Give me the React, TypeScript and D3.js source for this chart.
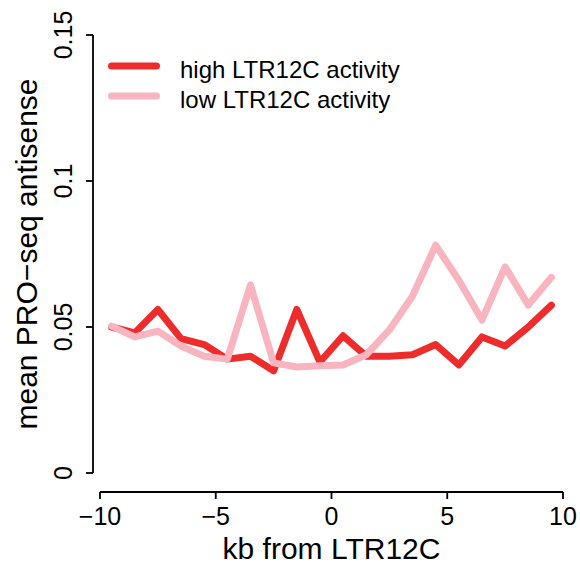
import React from "react";
import * as d3 from "d3";

// Bin centres (kb from LTR12C)
const positions = [-9.5, -8.5, -7.5, -6.5, -5.5, -4.5, -3.5, -2.5, -1.5, -0.5, 0.5, 1.5, 2.5, 3.5, 4.5, 5.5, 6.5, 7.5, 8.5, 9.5];

// Mean antisense PRO-seq signal per bin
const highActivity = [0.050, 0.048, 0.056, 0.046, 0.044, 0.039, 0.040, 0.035, 0.056, 0.038, 0.047, 0.040, 0.040, 0.0405, 0.044, 0.037, 0.0466, 0.0435, 0.050, 0.0575];
const lowActivity = [0.0503, 0.0466, 0.0486, 0.0435, 0.040, 0.039, 0.0644, 0.0377, 0.0363, 0.0367, 0.037, 0.0405, 0.049, 0.0606, 0.078, 0.066, 0.0524, 0.0706, 0.0575, 0.067];

const xTicks = [-10, -5, 0, 5, 10];
const xTickLabels = ["\u221210", "\u22125", "0", "5", "10"];
const yTicks = [0, 0.05, 0.1, 0.15];
const yTickLabels = ["0", "0.05", "0.1", "0.15"];

const seriesNames = ["high LTR12C activity", "low LTR12C activity"];
const seriesColors = ["#EE2C2C", "#F8B4BF"];

export default function App() {
  const width = 580;
  const height = 571;
  const font = "Liberation Sans, Arial, sans-serif";

  const x = d3.scaleLinear().domain([-10, 10]).range([100, 563]);
  const y = d3.scaleLinear().domain([0, 0.15]).range([473, 35]);

  const line = d3
    .line<number>()
    .x((_, i) => x(positions[i]))
    .y((d) => y(d));

  const series = [highActivity, lowActivity];
  const axisX = 93;
  const axisY = 492;

  return (
    <svg
      width={width}
      height={height}
      style={{ position: "absolute", left: 0, top: 0, background: "#fff" }}
      fontFamily={font}
    >
      {/* data lines: high first, low on top */}
      {series.map((s, i) => (
        <path
          key={seriesNames[i]}
          d={line(s) || ""}
          fill="none"
          stroke={seriesColors[i]}
          strokeWidth={7}
          strokeLinejoin="round"
          strokeLinecap="round"
        />
      ))}

      {/* y axis */}
      <line x1={axisX} x2={axisX} y1={y(0)} y2={y(0.15)} stroke="#000" strokeWidth={1.8} />
      {yTicks.map((t, i) => (
        <g key={t}>
          <line x1={axisX - 7} x2={axisX} y1={y(t)} y2={y(t)} stroke="#000" strokeWidth={1.8} />
          <text
            transform={`translate(${axisX - 21},${y(t)}) rotate(-90)`}
            textAnchor="middle"
            fontSize={25}
            fill="#000"
          >
            {yTickLabels[i]}
          </text>
        </g>
      ))}
      <text
        transform={`translate(37,${(y(0) + y(0.15)) / 2}) rotate(-90)`}
        textAnchor="middle"
        fontSize={30}
        fill="#000"
      >
        mean PRO−seq antisense
      </text>

      {/* x axis */}
      <line x1={x(-10)} x2={x(10)} y1={axisY} y2={axisY} stroke="#000" strokeWidth={1.8} />
      {xTicks.map((t, i) => (
        <g key={t}>
          <line x1={x(t)} x2={x(t)} y1={axisY} y2={axisY + 7} stroke="#000" strokeWidth={1.8} />
          <text x={x(t)} y={525} textAnchor="middle" fontSize={25} fill="#000">
            {xTickLabels[i]}
          </text>
        </g>
      ))}
      <text x={(x(-10) + x(10)) / 2} y={559} textAnchor="middle" fontSize={30} fill="#000">
        kb from LTR12C
      </text>

      {/* legend */}
      {seriesNames.map((name, i) => (
        <g key={name}>
          <line
            x1={111.5}
            x2={156.5}
            y1={66 + i * 30}
            y2={66 + i * 30}
            stroke={seriesColors[i]}
            strokeWidth={7}
            strokeLinecap="round"
          />
          <text x={180} y={78 + i * 30} fontSize={24} fill="#000">
            {name}
          </text>
        </g>
      ))}
    </svg>
  );
}
